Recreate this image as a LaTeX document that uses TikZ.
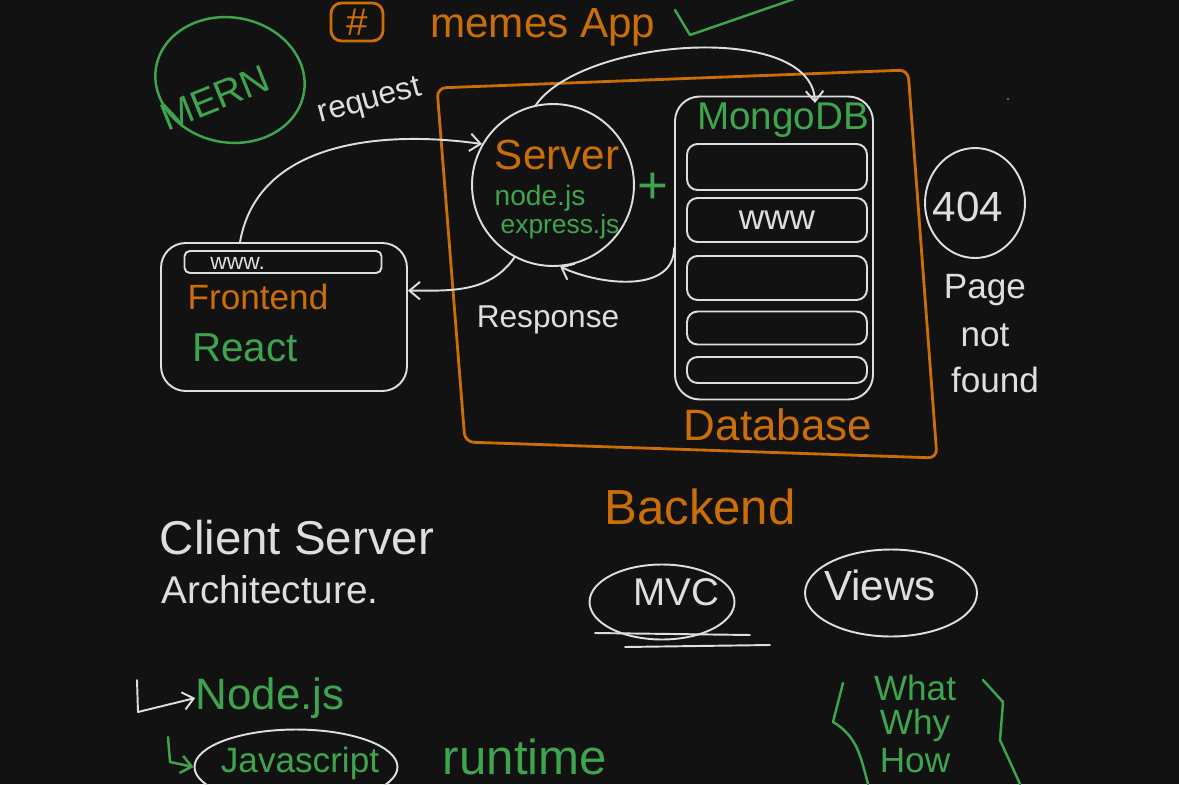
\documentclass[tikz,border=0pt]{standalone}
\usepackage{fontspec}
\setmainfont{Liberation Sans}
\usetikzlibrary{arrows.meta,shapes.geometric}
\definecolor{board}{RGB}{18,18,18}
\definecolor{chalk}{RGB}{222,222,222}
\definecolor{inkorange}{RGB}{204,110,8}
\definecolor{inkgreen}{RGB}{62,164,78}
\tikzset{
	whitepen/.style={draw=chalk, line width=1.1pt},
	orangepen/.style={draw=inkorange, line width=1.6pt},
	greenpen/.style={draw=inkgreen, line width=1.4pt},
	chalktext/.style={text=chalk, inner sep=0pt},
	orangetext/.style={text=inkorange, inner sep=0pt},
	greentext/.style={text=inkgreen, inner sep=0pt},
	rowbox/.style={whitepen, rounded corners=6pt, minimum width=3.6cm},
}
\newcommand{\fs}[1]{\fontsize{#1}{#1}\selectfont}
\begin{document}
\begin{tikzpicture}[x=0.02cm, y=-0.02cm, line cap=round, line join=round, >={Straight Barb[length=6pt,width=10pt]}]
			%board
			\fill[board] (0,0) rectangle (1179,784);
			\useasboundingbox (0,0) rectangle (1179,784);
			
			%title
			\node[orangepen, rounded corners=6pt, minimum width=1.04cm, minimum height=0.76cm, orangetext] (hash) at (357,22) {\fs{22}\#};
			\node[orangetext, anchor=west] (title) at (430,27) {\fs{24}memes App};
			\draw[greenpen] (675,10) -- (690,35) -- (800,-3);
			\node[greenpen, ellipse, minimum width=3cm, minimum height=2.5cm, rotate=-10] (mern) at (230,80) {};
			\node[greentext, rotate=22] (mernlabel) at (215,98) {\fs{22}MERN};
			\fill[inkorange] (1008,99) circle (1.2);
			
			%backend frame
			\draw[orangepen, rounded corners=5pt] (437,88) -- (908,70) -- (937,458) -- (465,442) -- cycle;
			
			%server
			\node[whitepen, circle, minimum size=3.24cm] (server) at (553,185) {};
			\node[orangetext] (serverlabel) at (557,155) {\fs{24}Server};
			\node[greentext] (nodelabel) at (540,198) {\fs{16}node.js};
			\node[greentext] (expresslabel) at (560,227) {\fs{15}express.js};
			\node[greentext] (plus) at (653,188) {\fs{30}+};
			
			%database
			\node[whitepen, rounded corners=14pt, minimum width=3.96cm, minimum height=6.06cm] (mongo) at (774,248) {};
			\node[greentext] (mongolabel) at (783,120) {\fs{22}MongoDB};
			\foreach \y/\h [count=\i] in {167/0.92, 220/0.88, 278/0.88, 328/0.66, 370/0.52}{
				\node[rowbox, minimum height=\h cm] (row\i) at (777,\y) {};
			}
			\node[chalktext] (www) at (row2) {\fs{20}www};
			\node[orangetext] (dblabel) at (778,425) {\fs{25}Database};
			
			%frontend
			\node[whitepen, rounded corners=14pt, minimum width=4.92cm, minimum height=2.96cm] (front) at (284,317) {};
			\node[whitepen, rounded corners=3pt, minimum width=3.94cm, minimum height=0.44cm] (bar) at (283,262) {};
			\node[chalktext, anchor=west] (barlabel) at (210,263) {\fs{13}www.};
			\node[orangetext] (frontlabel) at (258,297) {\fs{20}Frontend};
			\node[greentext] (reactlabel) at (245,348) {\fs{23}React};
			
			%request and response
			\node[chalktext, rotate=15] (reqlabel) at (370,102) {\fs{18}request};
			\node[chalktext] (resplabel) at (548,320) {\fs{18}Response};
			\coordinate (reqstart) at (240,242);
			\coordinate (dbin) at (815,103);
			\draw[whitepen, ->] (reqstart) to[out=80, in=172] (server.150);
			\draw[whitepen, ->] (server.102) to[out=55, in=92, looseness=0.75] (dbin);
			\draw[whitepen, ->] (mongo.west) to[out=-90, in=-25] (server.-85);
			\draw[whitepen, ->] (server.-118) to[out=-125, in=0] (front.12);
			
			%404
			\node[whitepen, ellipse, minimum width=2.0cm, minimum height=2.2cm] (notfound) at (975,203) {};
			\node[chalktext] (code) at (968,207) {\fs{24}404};
			\node[chalktext] (page) at (985,290) {\fs{20}Page};
			\node[chalktext] (not) at (985,335) {\fs{20}not};
			\node[chalktext] (found) at (995,380) {\fs{20}found};
			
			%notes
			\node[orangetext] (backlabel) at (700,507) {\fs{28}Backend};
			\node[chalktext] (client) at (297,538) {\fs{27}Client Server};
			\node[chalktext] (arch) at (270,590) {\fs{22}Architecture.};
			\node[whitepen, ellipse, minimum width=2.9cm, minimum height=1.5cm] (mvc) at (662,602) {};
			\node[chalktext] (mvclabel) at (676,592) {\fs{22}MVC};
			\draw[whitepen] (595,633) -- (750,635);
			\draw[whitepen] (625,647) -- (770,645);
			\node[whitepen, ellipse, minimum width=3.44cm, minimum height=1.74cm] (views) at (891,593) {};
			\node[chalktext] (viewslabel) at (880,585) {\fs{24}Views};
			
			%node.js
			\node[greentext] (nodejs) at (270,698) {\fs{25}Node.js};
			\coordinate (hook1) at (137,680);
			\draw[whitepen, ->] (hook1) -- (138,712) -- (nodejs.west);
			\node[whitepen, ellipse, minimum width=4.06cm, minimum height=1.5cm] (jsring) at (296,767) {};
			\node[greentext] (js) at (300,763) {\fs{20}Javascript};
			\coordinate (hook2) at (168,737);
			\draw[greenpen, ->] (hook2) -- (170,762) -- (jsring.west);
			\node[greentext] (runtime) at (525,757) {\fs{28}runtime};
			
			%what why how
			\node[greentext] (what) at (915,688) {\fs{20}What};
			\node[greentext] (why) at (915,725) {\fs{20}Why};
			\node[greentext] (how) at (915,761) {\fs{20}How};
			\draw[greenpen] (843,683) -- (833,722) to[out=-30, in=105] (868,784);
			\draw[greenpen] (983,680) -- (1003,702) -- (1000,740) -- (1020,784);
		\end{tikzpicture}
\end{document}
